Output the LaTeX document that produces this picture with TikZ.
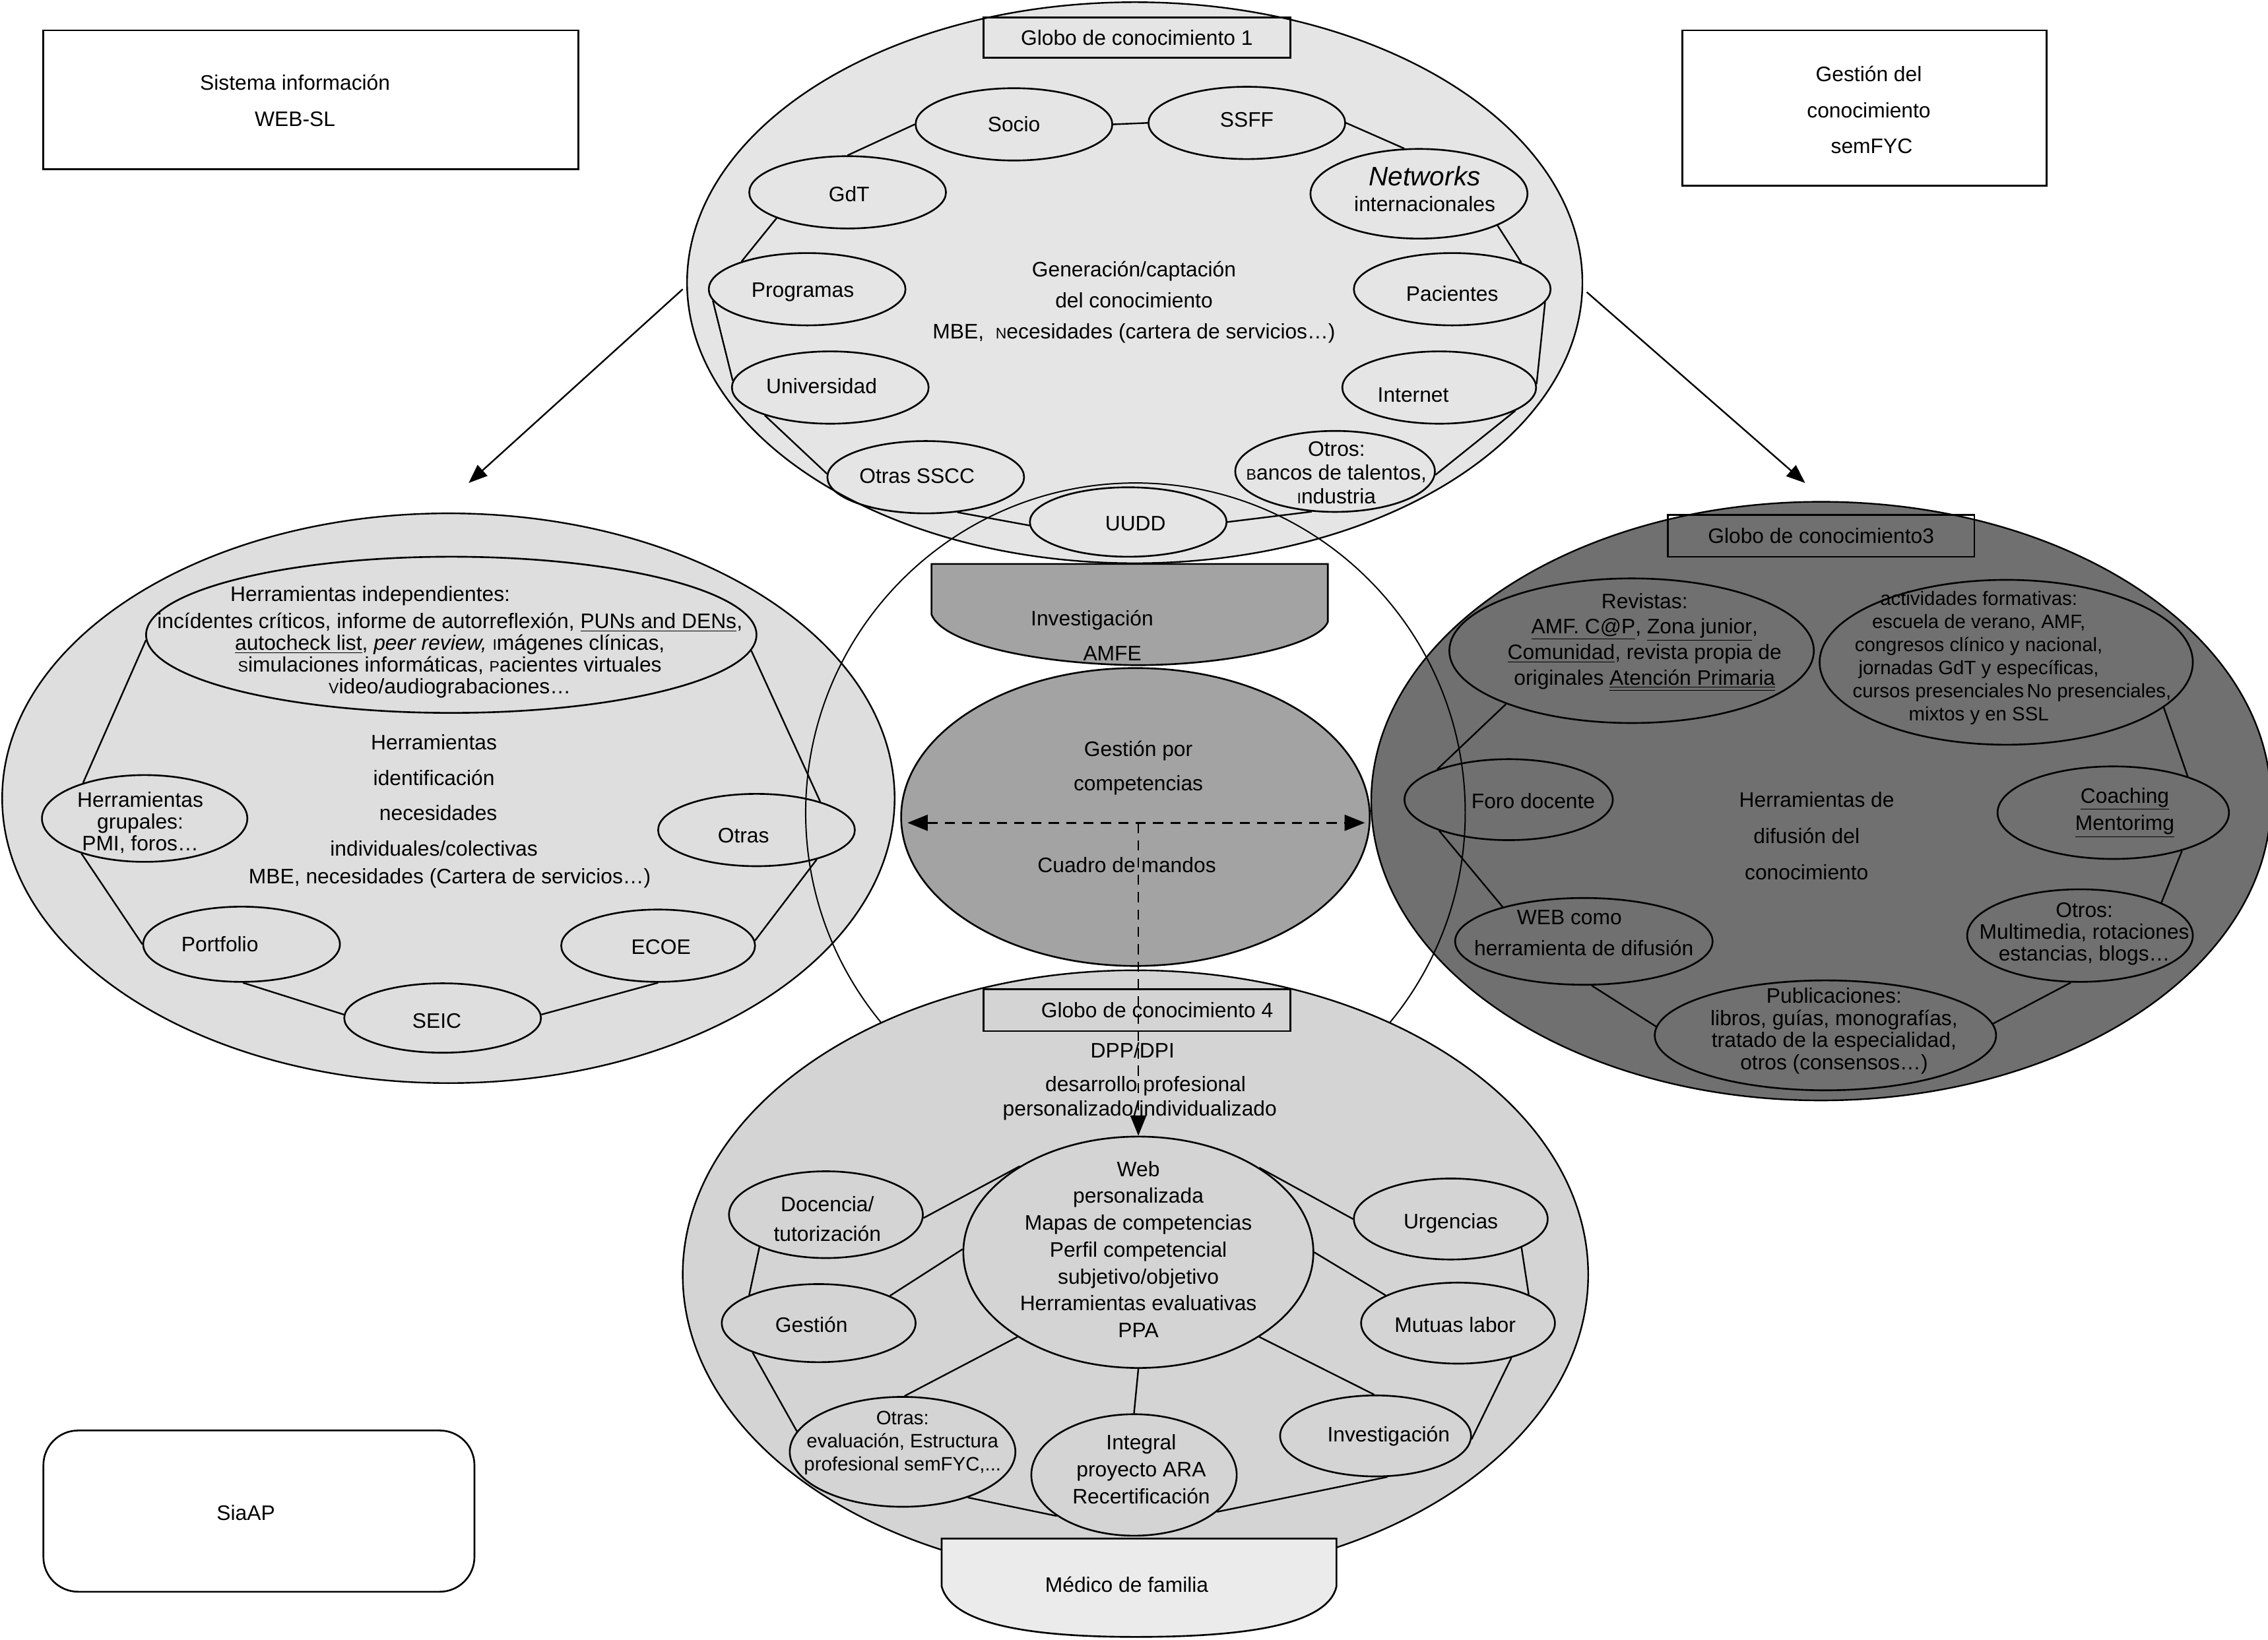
\documentclass[tikz,border=0pt]{standalone}
\usepackage{fontspec}
\setmainfont{Liberation Sans}
\usetikzlibrary{shapes.geometric,arrows.meta}
\definecolor{gTop}{gray}{0.90}
\definecolor{gLeft}{gray}{0.87}
\definecolor{gBot}{gray}{0.83}
\definecolor{gRight}{gray}{0.44}
\definecolor{gMid}{gray}{0.64}
\definecolor{gMed}{gray}{0.92}
\newcommand{\minicap}[1]{{\fontsize{10.5}{10.5}\selectfont #1}}
\newcommand{\fsz}[1]{\fontsize{14.5}{#1}\selectfont}
\begin{document}
\begin{tikzpicture}[x=1pt,y=-1pt, font=\fontsize{14.5}{17}\selectfont,
  bigell/.style={ellipse, draw, line width=1.1pt, inner sep=0pt},
  ell/.style={ellipse, draw, line width=1.2pt, inner sep=0pt},
  tbox/.style={rectangle, draw, line width=1.2pt, inner sep=0pt},
  tx/.style={align=center, inner sep=0pt},
  con/.style={line width=1.1pt},
  arr/.style={line width=1.1pt, -{Triangle[length=13pt,width=10pt]}},
  dsh/.style={line width=1.2pt, dash pattern=on 7pt off 5pt}]

\useasboundingbox (0,0) rectangle (1568,1134);

% ---------------- Left globe ----------------
\node[bigell, fill=gLeft, minimum width=617pt, minimum height=394pt] (g2) at (310,552) {};
\node[ell, minimum width=422pt, minimum height=108pt] (indep) at (312,439) {};
\node[ell, minimum width=142pt, minimum height=60pt] (grup) at (100,566) {};
\node[ell, minimum width=136pt, minimum height=50pt] (otrasL) at (523,574) {};
\node[ell, minimum width=136pt, minimum height=52pt] (portf) at (167,653) {};
\node[ell, minimum width=134pt, minimum height=50pt] (ecoe) at (455,654) {};
\node[ell, minimum width=136pt, minimum height=48pt] (seic) at (306,704) {};
\draw[con] (indep.181) -- (grup.150);
\draw[con] (grup.209) -- (portf.180);
\draw[con] (portf.272) -- (seic.178);
\draw[con] (seic.2) -- (ecoe.270);
\draw[con] (ecoe.3) -- (otrasL.334);
\draw[con] (otrasL.24) -- (indep.357);
\node[tx, font=\fsz{15}] (t-indep) at (311,444) {Herramientas independientes:\hspace*{110pt}\\[4pt]
 incídentes críticos, informe de autorreflexión, \underline{PUNs and DENs},\\
 \underline{autocheck list}, \textit{peer review,} \minicap{I}mágenes clínicas,\\
 \minicap{S}imulaciones informáticas, \minicap{P}acientes virtuales\\
 \minicap{V}ideo/audiograbaciones…};
\node[tx, font=\fsz{15}] (t-grup) at (97,569) {Herramientas\\grupales:\\PMI, foros…};
\node[tx] (t-otrasL) at (514,578) {Otras};
\node[tx] (t-portf) at (152,653) {Portfolio};
\node[tx] (t-ecoe) at (457,655) {ECOE};
\node[tx] (t-seic) at (302,706) {SEIC};
\node[tx, font=\fsz{24.5}] (t-g2) at (300,561) {Herramientas\\identificación\\\hspace*{6pt}necesidades\\individuales/colectivas\hspace*{30pt}\\[-5.5pt]\hspace*{22pt}MBE, necesidades (Cartera de servicios…)};

% ---------------- Right globe ----------------
\node[bigell, fill=gRight, minimum width=622pt, minimum height=414pt] (g3) at (1259,554) {};
\node[tbox, minimum width=212pt, minimum height=29pt] (g3t) at (1259,370.5) {Globo de conocimiento3};
\node[ell, minimum width=252pt, minimum height=100pt] (rev) at (1128,450) {};
\node[ell, minimum width=258pt, minimum height=114pt] (act) at (1387,458) {};
\node[ell, minimum width=144pt, minimum height=56pt] (foro) at (1043,553) {};
\node[ell, minimum width=160pt, minimum height=64pt] (coach) at (1461,562) {};
\node[ell, minimum width=178pt, minimum height=60pt] (web3) at (1095,651) {};
\node[ell, minimum width=156pt, minimum height=64pt] (otros3) at (1438,647) {};
\node[ell, minimum width=236pt, minimum height=76pt] (pub) at (1262,716) {};
\draw[con] (rev.203) -- (foro.157);
\draw[con] (foro.204) -- (web3.157);
\draw[con] (web3.280) -- (pub.177);
\draw[con] (pub.4) -- (otros3.259);
\draw[con] (otros3.22) -- (coach.331);
\draw[con] (coach.26) -- (act.344);
\node[tx, font=\fsz{17.7}] (t-rev) at (1137,444) {Revistas:\\\underline{AMF. C@P}, \underline{Zona junior},\\\underline{Comunidad}, revista propia de\\originales \underline{\underline{Atención Primaria}}};
\node[tx, font=\fontsize{13.4}{16}\selectfont] (t-act) at (1368,455) {actividades formativas:\\escuela de verano, AMF,\\congresos clínico y nacional,\\jornadas GdT y específicas,\\\hspace*{46pt}cursos presenciales\hspace{2pt}No presenciales,\\mixtos y en SSL};
\node[tx] (t-foro) at (1060,554) {Foro docente};
\node[tx, font=\fsz{19}] (t-coach) at (1469,562) {\underline{Coaching}\\\underline{Mentorimg}};
\node[tx, font=\fsz{21.5}] (t-web3) at (1095,645) {WEB como\hspace*{20pt}\\herramienta de difusión};
\node[tx, font=\fsz{15}] (t-otros3) at (1441,646) {Otros:\\Multimedia, rotaciones\\estancias, blogs…};
\node[tx, font=\fsz{15.3}] (t-pub) at (1268,713) {Publicaciones:\\libros, guías, monografías,\\tratado de la especialidad,\\otros (consensos…)};
\node[tx, font=\fsz{25}] (t-g3) at (1249,578) {\hspace*{14pt}Herramientas de\\difusión del\\conocimiento};

% ---------------- Top globe ----------------
\node[bigell, fill=gTop, minimum width=619pt, minimum height=388pt] (g1) at (784.5,195.5) {};
\node[tbox, minimum width=212pt, minimum height=28pt] (g1t) at (786,26) {Globo de conocimiento 1};
\node[ell, minimum width=136pt, minimum height=50pt] (socio) at (701,86) {};
\node[ell, minimum width=136pt, minimum height=50pt] (ssff) at (862,85) {};
\node[ell, minimum width=150pt, minimum height=62pt] (net) at (981,134) {};
\node[ell, minimum width=136pt, minimum height=50pt] (gdt) at (586,133) {};
\node[ell, minimum width=136pt, minimum height=50pt] (prog) at (558,200) {};
\node[ell, minimum width=136pt, minimum height=50pt] (univ) at (574,268) {};
\node[ell, minimum width=136pt, minimum height=50pt] (sscc) at (640,330) {};
\node[ell, minimum width=136pt, minimum height=48pt] (uudd) at (780,361) {};
\node[ell, minimum width=136pt, minimum height=50pt] (pac) at (1004,200) {};
\node[ell, minimum width=134pt, minimum height=50pt] (inet) at (995,268) {};
\node[ell, minimum width=138pt, minimum height=56pt] (otros1) at (923,326) {};
\draw[con] (socio.east) -- (ssff.west);
\draw[con] (socio.west) -- (gdt.90);
\draw[con] (gdt.200) -- (prog.157);
\draw[con] (prog.187) -- (univ.176);
\draw[con] (univ.203) -- (sscc.178);
\draw[con] (sscc.312) -- (uudd.182);
\draw[con] (uudd.0) -- (otros1.240);
\draw[con] (otros1.358) -- (inet.343);
\draw[con] (inet.2) -- (pac.352);
\draw[con] (pac.21) -- (net.338);
\draw[con] (ssff.0) -- (net.108);
\node[tx] (t-socio) at (701,86) {Socio};
\node[tx] (t-ssff) at (862,83) {SSFF};
\node[tx, font=\fontsize{18.5}{20}\selectfont\itshape] (t-net1) at (985,122) {Networks};
\node[tx] (t-net2) at (985,141) {internacionales};
\node[tx] (t-gdt) at (587,134) {GdT};
\node[tx] (t-prog) at (555,202) {Programas};
\node[tx] (t-univ) at (568,267) {Universidad};
\node[tx] (t-sscc) at (634,329) {Otras SSCC};
\node[tx] (t-uudd) at (785,362) {UUDD};
\node[tx] (t-pac) at (1004,203) {Pacientes};
\node[tx] (t-inet) at (977,273) {Internet};
\node[tx, font=\fsz{16.5}] (t-otros1) at (924,327) {Otros:\\\minicap{B}ancos de talentos,\\\minicap{I}ndustria};
\node[tx, font=\fsz{21.5}] (t-g1) at (784,209) {Generación/captación\\del conocimiento\\MBE,\ \ \minicap{N}ecesidades (cartera de servicios…)};

% ---------------- Large outline circle ----------------
\node[circle, draw, line width=0.9pt, minimum size=456pt, inner sep=0pt] (ring) at (785,562) {};

% ---------------- Bottom globe ----------------
\node[bigell, fill=gBot, minimum width=626pt, minimum height=421pt] (g4) at (785,881.5) {};
\node[tbox, minimum width=212pt, minimum height=29pt] (g4t) at (786,698.5) {};
\node[tx] (t-g4t) at (800,698.5) {Globo de conocimiento 4};
\node[tx, font=\fsz{17}] (t-dpp) at (788,748) {DPP/DPI\hspace*{10pt}\\[6pt]\hspace*{8pt}desarrollo profesional\\personalizado/individualizado};
\node[ell, minimum width=242pt, minimum height=160pt] (web) at (787,866) {};
\node[ell, minimum width=134pt, minimum height=60pt] (doc) at (571,840) {};
\node[ell, minimum width=134pt, minimum height=54pt] (gest) at (566,915) {};
\node[ell, minimum width=156pt, minimum height=76pt] (otrasB) at (624,1004) {};
\node[ell, minimum width=142pt, minimum height=84pt] (integ) at (784,1020) {};
\node[ell, minimum width=132pt, minimum height=56pt] (inv) at (951,993) {};
\node[ell, minimum width=134pt, minimum height=56pt] (mut) at (1008,915) {};
\node[ell, minimum width=134pt, minimum height=56pt] (urg) at (1003,843) {};
\draw[con] (doc.358) -- (web.144);
\draw[con] (gest.21) -- (web.179);
\draw[con] (otrasB.88) -- (web.215);
\draw[con] (integ.90) -- (web.270);
\draw[con] (inv.92) -- (web.325);
\draw[con] (mut.159) -- (web.0);
\draw[con] (urg.180) -- (web.35);
\draw[con] (doc.206) -- (gest.158);
\draw[con] (gest.204) -- (otrasB.169);
\draw[con] (otrasB.325) -- (integ.208);
\draw[con] (integ.336) -- (inv.286);
\draw[con] (inv.358) -- (mut.327);
\draw[con] (mut.22) -- (urg.338);
\node[tx, font=\fsz{18.6}] (t-web) at (787,864) {Web\\personalizada\\Mapas de competencias\\Perfil competencial\\subjetivo/objetivo\\Herramientas evaluativas\\PPA};
\node[tx, font=\fsz{20.6}] (t-doc) at (572,843) {Docencia/\\tutorización};
\node[tx] (t-gest) at (561,916) {Gestión};
\node[tx, font=\fontsize{13.4}{16}\selectfont] (t-otrasB) at (624,998) {Otras:\\evaluación, Estructura\\profesional semFYC,...};
\node[tx, font=\fsz{18.7}] (t-integ) at (789,1016) {Integral\\proyecto ARA\\Recertificación};
\node[tx] (t-inv) at (960,993) {Investigación};
\node[tx] (t-mut) at (1006,916) {Mutuas labor};
\node[tx] (t-urg) at (1003,846) {Urgencias};

% ---------------- Investigación / AMFE ----------------
\draw[line width=1.2pt, fill=gMid] (644,390) -- (644,425) .. controls (652,445) and (715,459) .. (785,460) .. controls (850,460) and (912,446) .. (918,430) -- (918,390) -- cycle;
\node[tx] (t-invA) at (755,429) {Investigación};
\node[tx] (t-amfe) at (769,452) {AMFE};

% ---------------- Gestión por competencias ----------------
\node[ellipse, draw, line width=1.2pt, fill=gMid, inner sep=0pt, minimum width=324pt, minimum height=206pt] (gpc) at (785,565) {};
\node[tx, font=\fsz{24}] (t-gpc) at (787,531) {Gestión por\\competencias};
\node[tx] (t-cuadro) at (779,598) {Cuadro de mandos};
\draw[dsh, {Triangle[length=14pt,width=11pt]}-{Triangle[length=14pt,width=11pt]}] ([shift={(5,4)}]gpc.west) -- ([shift={(-4,4)}]gpc.east);
\coordinate (dm) at (787,569);
\draw[dsh, -{Triangle[length=14pt,width=11pt]}] (dm) -- (web.north);

% ---------------- Médico de familia ----------------
\draw[line width=1.2pt, fill=gMed] (651,1064) -- (651,1097) .. controls (658,1124) and (715,1132) .. (785,1132) .. controls (860,1132) and (918,1124) .. (924,1097) -- (924,1064) -- cycle;
\node[tx] (t-medico) at (779,1096) {Médico de familia};

% ---------------- Arrows from the top globe ----------------
\coordinate (a1s) at (472,200);
\coordinate (a1e) at (324,334);
\coordinate (a2s) at (1097,202);
\coordinate (a2e) at (1248,334);
\draw[arr] (a1s) -- (a1e);
\draw[arr] (a2s) -- (a2e);

% ---------------- Corner boxes ----------------
\node[tbox, minimum width=370pt, minimum height=96pt] (sis) at (215,69) {};
\node[tx, font=\fsz{25}] (t-sis) at (204,69.5) {Sistema información\\WEB-SL};
\node[tbox, minimum width=252pt, minimum height=107.5pt] (gc) at (1289,74.75) {};
\node[tx, font=\fsz{25}] (t-gc) at (1292,76) {Gestión del\\conocimiento\\\hspace*{4pt}semFYC};
\node[tbox, rounded corners=24pt, minimum width=298pt, minimum height=111.5pt] (siaap) at (179,1045) {};
\node[tx] (t-siaap) at (170,1046) {SiaAP};
\end{tikzpicture}
\end{document}
